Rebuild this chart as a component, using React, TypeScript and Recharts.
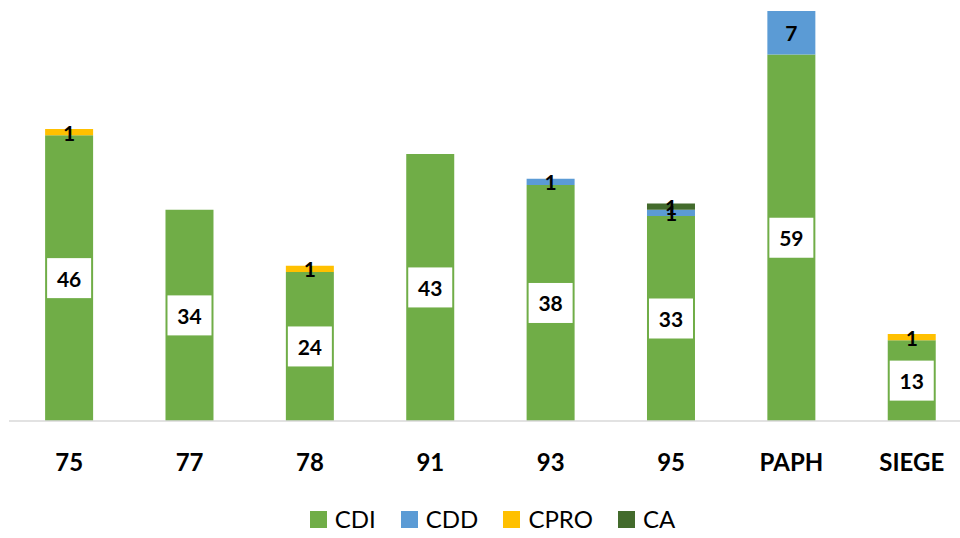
import { Bar, BarChart, LabelList, Legend, XAxis, YAxis } from "recharts";

const categories = ["75", "77", "78", "91", "93", "95", "PAPH", "SIEGE"];
const cdi = [46, 34, 24, 43, 38, 33, 59, 13];
const cdd = [0, 0, 0, 0, 1, 1, 7, 0];
const cpro = [1, 0, 1, 0, 0, 0, 0, 1];
const ca = [0, 0, 0, 0, 0, 1, 0, 0];

const series = [
  { key: "CDI", color: "#70AD47" },
  { key: "CDD", color: "#5B9BD5" },
  { key: "CPRO", color: "#FFC000" },
  { key: "CA", color: "#436B2C" }
];

const data = categories.map((name, i) => ({
  name,
  CDI: cdi[i],
  CDD: cdd[i],
  CPRO: cpro[i],
  CA: ca[i]
}));

const FONT = "Lato, 'DejaVu Sans', sans-serif";

function BoxLabel(props: any) {
  const { x, y, width, height, value } = props;
  if (!value) return null;
  const cx = x + width / 2;
  const cy = y + height / 2;
  return (
    <g>
      <rect x={cx - 22} y={cy - 20} width={44} height={40} fill="#fff" />
      <text
        x={cx}
        y={cy}
        textAnchor="middle"
        dominantBaseline="central"
        fontFamily={FONT}
        fontWeight={700}
        fontSize={21}
        fill="#000"
      >
        {value}
      </text>
    </g>
  );
}

function PlainLabel(props: any) {
  const { x, y, width, height, value } = props;
  if (!value) return null;
  return (
    <text
      x={x + width / 2}
      y={y + height / 2}
      textAnchor="middle"
      dominantBaseline="central"
      fontFamily={FONT}
      fontWeight={700}
      fontSize={21}
      fill="#000"
    >
      {value}
    </text>
  );
}

function LegendContent() {
  return (
    <div
      style={{
        display: "flex",
        justifyContent: "center",
        gap: 25,
        fontFamily: FONT,
        fontSize: 24,
        lineHeight: "24px",
        paddingLeft: 4
      }}
    >
      {series.map((s) => (
        <div key={s.key} style={{ display: "flex", alignItems: "center" }}>
          <span style={{ width: 17, height: 17, background: s.color, display: "inline-block", marginRight: 8 }} />
          <span style={{ color: "#000" }}>{s.key}</span>
        </div>
      ))}
    </div>
  );
}

export default function App() {
  return (
    <div style={{ position: "absolute", left: 0, top: 0, width: 960, height: 538, overflow: "hidden", background: "#fff" }}>
      <BarChart
        width={975}
        height={538}
        data={data}
        margin={{ top: 11, right: 3, left: 9, bottom: 0 }}
        barCategoryGap="30%"
      >
        <XAxis
          dataKey="name"
          tickLine={false}
          axisLine={{ stroke: "#d9d9d9", strokeWidth: 1.5 }}
          height={87}
          tick={{ fontFamily: FONT, fontWeight: 700, fontSize: 24, fill: "#000" }}
          tickMargin={27}
        />
        <YAxis hide domain={[0, 66]} />
        <Legend
          verticalAlign="bottom"
          height={30}
          wrapperStyle={{ bottom: 1 }}
          content={<LegendContent />}
        />
        {series.map((s) => (
          <Bar key={s.key} dataKey={s.key} stackId="a" fill={s.color} isAnimationActive={false}>
            <LabelList dataKey={s.key} content={s.key === "CDI" ? <BoxLabel /> : <PlainLabel />} />
          </Bar>
        ))}
      </BarChart>
    </div>
  );
}
